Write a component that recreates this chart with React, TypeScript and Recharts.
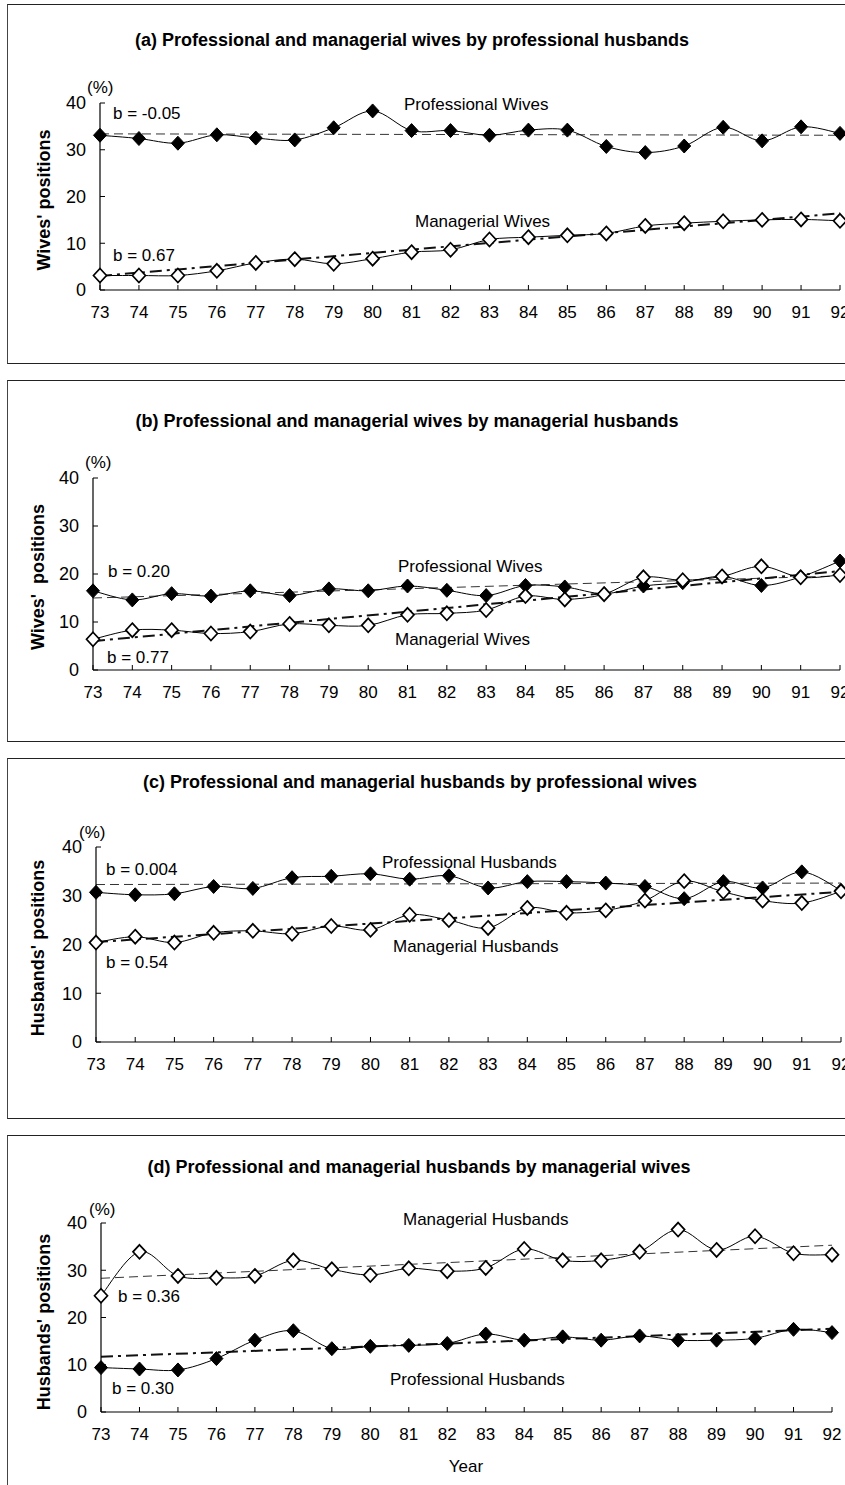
import React from 'react';
import { LineChart, Line, XAxis, YAxis } from 'recharts';

const years = ['73', '74', '75', '76', '77', '78', '79', '80', '81', '82', '83', '84', '85', '86', '87', '88', '89', '90', '91', '92'];
const yTicks = [0, 10, 20, 30, 40];

// (a) wives by professional husbands
const aProfWives = [33.1, 32.4, 31.4, 33.2, 32.5, 32.1, 34.7, 38.3, 34.1, 34.1, 33.1, 34.2, 34.2, 30.7, 29.4, 30.8, 34.8, 31.9, 34.9, 33.5];
const aManWives = [3.1, 3.1, 3.1, 4.1, 5.8, 6.6, 5.6, 6.7, 8.1, 8.6, 10.8, 11.3, 11.7, 12.1, 13.7, 14.3, 14.7, 15.0, 15.1, 14.8];
const aProfTrend = [33.4, 33.1];
const aManTrend = [3.0, 16.4];

// (b) wives by managerial husbands
const bProfWives = [16.5, 14.6, 15.9, 15.4, 16.5, 15.5, 16.9, 16.5, 17.5, 16.6, 15.5, 17.6, 17.3, 15.9, 17.5, 18.2, 19.5, 17.6, 19.4, 22.7];
const bManWives = [6.4, 8.3, 8.3, 7.6, 8.0, 9.6, 9.3, 9.3, 11.5, 11.8, 12.5, 15.4, 14.7, 15.8, 19.3, 18.7, 19.5, 21.6, 19.3, 19.8];
const bProfTrend = [15.0, 19.6];
const bManTrend = [6.0, 20.6];

// (c) husbands by professional wives
const cProfHusbands = [30.7, 30.2, 30.4, 31.9, 31.5, 33.7, 34.0, 34.5, 33.4, 34.1, 31.6, 32.9, 32.9, 32.6, 31.9, 29.4, 32.9, 31.6, 34.9, 31.1];
const cManHusbands = [20.4, 21.6, 20.4, 22.4, 22.8, 22.2, 23.8, 23.0, 26.1, 25.0, 23.4, 27.5, 26.5, 27.0, 29.0, 33.0, 30.8, 29.0, 28.5, 30.9];
const cProfTrend = [32.3, 32.6];
const cManTrend = [20.5, 30.8];

// (d) husbands by managerial wives
const dManHusbands = [24.6, 33.9, 28.8, 28.4, 28.8, 32.1, 30.2, 29.0, 30.4, 29.8, 30.5, 34.5, 32.1, 32.1, 33.9, 38.6, 34.3, 37.2, 33.6, 33.3];
const dProfHusbands = [9.4, 9.1, 8.9, 11.3, 15.2, 17.2, 13.4, 13.9, 14.1, 14.5, 16.5, 15.2, 15.9, 15.2, 16.1, 15.2, 15.2, 15.6, 17.5, 16.8];
const dManTrend = [28.3, 35.3];
const dProfTrend = [11.7, 17.6];

function buildRows(upper: number[], lower: number[], upperTrend: number[], lowerTrend: number[]) {
  const last = years.length - 1;
  return years.map((year, i) => ({
    year,
    upper: upper[i],
    lower: lower[i],
    upperTrend: i === 0 ? upperTrend[0] : i === last ? upperTrend[1] : null,
    lowerTrend: i === 0 ? lowerTrend[0] : i === last ? lowerTrend[1] : null,
  }));
}

// Excel-like smoothed line (Catmull-Rom through the points)
const smoothCurve: any = (context: any) => {
  let pts: number[][] = [];
  return {
    areaStart() {},
    areaEnd() {},
    lineStart() { pts = []; },
    point(x: number, y: number) { pts.push([+x, +y]); },
    lineEnd() {
      if (!pts.length) return;
      context.moveTo(pts[0][0], pts[0][1]);
      const k = 1 / 6;
      for (let i = 0; i < pts.length - 1; i++) {
        const p0 = pts[i - 1] || pts[i];
        const p1 = pts[i];
        const p2 = pts[i + 1];
        const p3 = pts[i + 2] || pts[i + 1];
        context.bezierCurveTo(
          p1[0] + (p2[0] - p0[0]) * k, p1[1] + (p2[1] - p0[1]) * k,
          p2[0] - (p3[0] - p1[0]) * k, p2[1] - (p3[1] - p1[1]) * k,
          p2[0], p2[1]
        );
      }
    },
  };
};

const diamond = (filled: boolean) => (props: any) => {
  const { cx, cy, index } = props;
  if (cx == null || cy == null) return <g key={`d${index}`} />;
  return (
    <path
      key={`d${index}`}
      d={`M${cx},${cy - 7}L${cx + 6.5},${cy}L${cx},${cy + 7}L${cx - 6.5},${cy}Z`}
      fill={filled ? '#000' : '#fff'}
      stroke="#000"
      strokeWidth={filled ? 1 : 1.7}
    />
  );
};

const FONT = "Arial, 'Liberation Sans', Helvetica, sans-serif";

type Note = { t: string; x: number; y: number; size?: number; anchor?: 'left' | 'center' };
type Panel = {
  key: string;
  title: string;
  titleX: number;
  titleY: number;
  boxTop: number;
  boxBottom: number;
  plot: { top: number; bottom: number; left: number; right: number };
  yLabel: string;
  yLabelX: number;
  yLabelY: number;
  upperFilled: boolean;
  rows: any[];
  notes: Note[];
  bottomBorder: boolean;
};

const panels: Panel[] = [
  {
    key: 'a',
    title: '(a) Professional and managerial wives by professional husbands',
    titleX: 412, titleY: 40, boxTop: 4, boxBottom: 364,
    plot: { top: 103, bottom: 290, left: 100, right: 840 },
    yLabel: "Wives' positions", yLabelX: 44, yLabelY: 200,
    upperFilled: true,
    rows: buildRows(aProfWives, aManWives, aProfTrend, aManTrend),
    notes: [
      { t: '(%)', x: 87, y: 88, size: 17 },
      { t: 'b = -0.05', x: 113, y: 114 },
      { t: 'Professional Wives', x: 404, y: 105 },
      { t: 'Managerial Wives', x: 415, y: 222 },
      { t: 'b = 0.67', x: 113, y: 256 },
    ],
    bottomBorder: true,
  },
  {
    key: 'b',
    title: '(b) Professional and managerial wives by managerial husbands',
    titleX: 407, titleY: 421, boxTop: 380, boxBottom: 742,
    plot: { top: 478, bottom: 670, left: 93, right: 840 },
    yLabel: "Wives'  positions", yLabelX: 38, yLabelY: 577,
    upperFilled: true,
    rows: buildRows(bProfWives, bManWives, bProfTrend, bManTrend),
    notes: [
      { t: '(%)', x: 85, y: 463, size: 17 },
      { t: 'b = 0.20', x: 108, y: 572 },
      { t: 'Professional Wives', x: 398, y: 567 },
      { t: 'Managerial Wives', x: 395, y: 640 },
      { t: 'b = 0.77', x: 107, y: 658 },
    ],
    bottomBorder: true,
  },
  {
    key: 'c',
    title: '(c) Professional and managerial husbands by professional wives',
    titleX: 420, titleY: 782, boxTop: 758, boxBottom: 1119,
    plot: { top: 847, bottom: 1042, left: 96, right: 841 },
    yLabel: "Husbands' positions", yLabelX: 38, yLabelY: 948,
    upperFilled: true,
    rows: buildRows(cProfHusbands, cManHusbands, cProfTrend, cManTrend),
    notes: [
      { t: '(%)', x: 79, y: 833, size: 17 },
      { t: 'b = 0.004', x: 106, y: 870 },
      { t: 'Professional Husbands', x: 382, y: 863 },
      { t: 'Managerial Husbands', x: 393, y: 947 },
      { t: 'b = 0.54', x: 106, y: 963 },
    ],
    bottomBorder: true,
  },
  {
    key: 'd',
    title: '(d) Professional and managerial husbands by managerial wives',
    titleX: 419, titleY: 1167, boxTop: 1135, boxBottom: 1485,
    plot: { top: 1223, bottom: 1412, left: 101, right: 832 },
    yLabel: "Husbands' positions", yLabelX: 44, yLabelY: 1322,
    upperFilled: false,
    rows: buildRows(dManHusbands, dProfHusbands, dManTrend, dProfTrend),
    notes: [
      { t: '(%)', x: 89, y: 1210, size: 17 },
      { t: 'Managerial Husbands', x: 403, y: 1220 },
      { t: 'b = 0.36', x: 118, y: 1297 },
      { t: 'Professional Husbands', x: 390, y: 1380 },
      { t: 'b = 0.30', x: 112, y: 1389 },
      { t: 'Year', x: 466, y: 1467, anchor: 'center' },
    ],
    bottomBorder: false,
  },
];

const W = 845;
const Y_AXIS_W = 60;
const X_AXIS_H = 40;

function Txt({ n }: { n: Note }) {
  const size = n.size ?? 17;
  const style: React.CSSProperties = {
    position: 'absolute',
    top: n.y - size * 0.6,
    lineHeight: `${size * 1.2}px`,
    fontSize: size,
    fontFamily: FONT,
    color: '#000',
    whiteSpace: 'pre',
  };
  if (n.anchor === 'center') {
    style.left = n.x;
    style.transform = 'translateX(-50%)';
  } else {
    style.left = n.x;
  }
  return <div style={style}>{n.t}</div>;
}

function PanelView({ p }: { p: Panel }) {
  const height = p.boxBottom - p.boxTop;
  const margin = {
    top: p.plot.top - p.boxTop,
    left: p.plot.left - Y_AXIS_W,
    right: W - p.plot.right,
    bottom: p.boxBottom - p.plot.bottom - X_AXIS_H,
  };
  const upperDot = diamond(p.upperFilled);
  const lowerDot = diamond(!p.upperFilled);
  return (
    <>
      <div
        style={{
          position: 'absolute',
          left: 7,
          top: p.boxTop,
          width: W + 10,
          height: height,
          borderTop: '1.5px solid #222',
          borderLeft: '1px solid #444',
          borderBottom: p.bottomBorder ? '1.5px solid #222' : 'none',
          boxSizing: 'border-box',
        }}
      />
      <div style={{ position: 'absolute', left: 0, top: p.boxTop }}>
        <LineChart width={W} height={height} data={p.rows} margin={margin}>
          <XAxis
            dataKey="year"
            interval={0}
            axisLine={{ stroke: '#000', strokeWidth: 1.2 }}
            tickLine={{ stroke: '#000' }}
            tickSize={-5}
            tickMargin={21}
            height={X_AXIS_H}
            tick={{ fill: '#000', fontSize: 17, fontFamily: FONT }}
          />
          <YAxis
            type="number"
            domain={[0, 40]}
            ticks={yTicks}
            interval={0}
            width={Y_AXIS_W}
            axisLine={{ stroke: '#000', strokeWidth: 1.2 }}
            tickLine={{ stroke: '#000' }}
            tickSize={-5}
            tickMargin={19}
            tick={{ fill: '#000', fontSize: 18, fontFamily: FONT }}
          />
          <Line
            dataKey="upperTrend"
            type="linear"
            connectNulls
            stroke="#333"
            strokeWidth={1}
            strokeDasharray="9 5"
            dot={false}
            activeDot={false}
            isAnimationActive={false}
          />
          <Line
            dataKey="lowerTrend"
            type="linear"
            connectNulls
            stroke="#111"
            strokeWidth={2}
            strokeDasharray="12 5 3 5"
            dot={false}
            activeDot={false}
            isAnimationActive={false}
          />
          <Line
            dataKey="upper"
            type={smoothCurve}
            stroke="#000"
            strokeWidth={1}
            dot={upperDot}
            activeDot={false}
            isAnimationActive={false}
          />
          <Line
            dataKey="lower"
            type={smoothCurve}
            stroke="#000"
            strokeWidth={1}
            dot={lowerDot}
            activeDot={false}
            isAnimationActive={false}
          />
        </LineChart>
      </div>
      <div
        style={{
          position: 'absolute',
          left: p.titleX,
          top: p.titleY - 11,
          lineHeight: '22px',
          transform: 'translateX(-50%)',
          fontFamily: FONT,
          fontWeight: 'bold',
          fontSize: 18,
          whiteSpace: 'nowrap',
          color: '#000',
        }}
      >
        {p.title}
      </div>
      <div
        style={{
          position: 'absolute',
          left: p.yLabelX,
          top: p.yLabelY,
          transform: 'translate(-50%, -50%) rotate(-90deg)',
          fontFamily: FONT,
          fontWeight: 'bold',
          fontSize: 18,
          lineHeight: '20px',
          whiteSpace: 'pre',
          color: '#000',
        }}
      >
        {p.yLabel}
      </div>
      {p.notes.map((n, i) => (
        <Txt key={i} n={n} />
      ))}
    </>
  );
}

export default function App() {
  return (
    <div
      style={{
        position: 'absolute',
        left: 0,
        top: 0,
        width: W,
        height: 1485,
        overflow: 'hidden',
        background: '#fff',
      }}
    >
      {panels.map((p) => (
        <PanelView key={p.key} p={p} />
      ))}
    </div>
  );
}
